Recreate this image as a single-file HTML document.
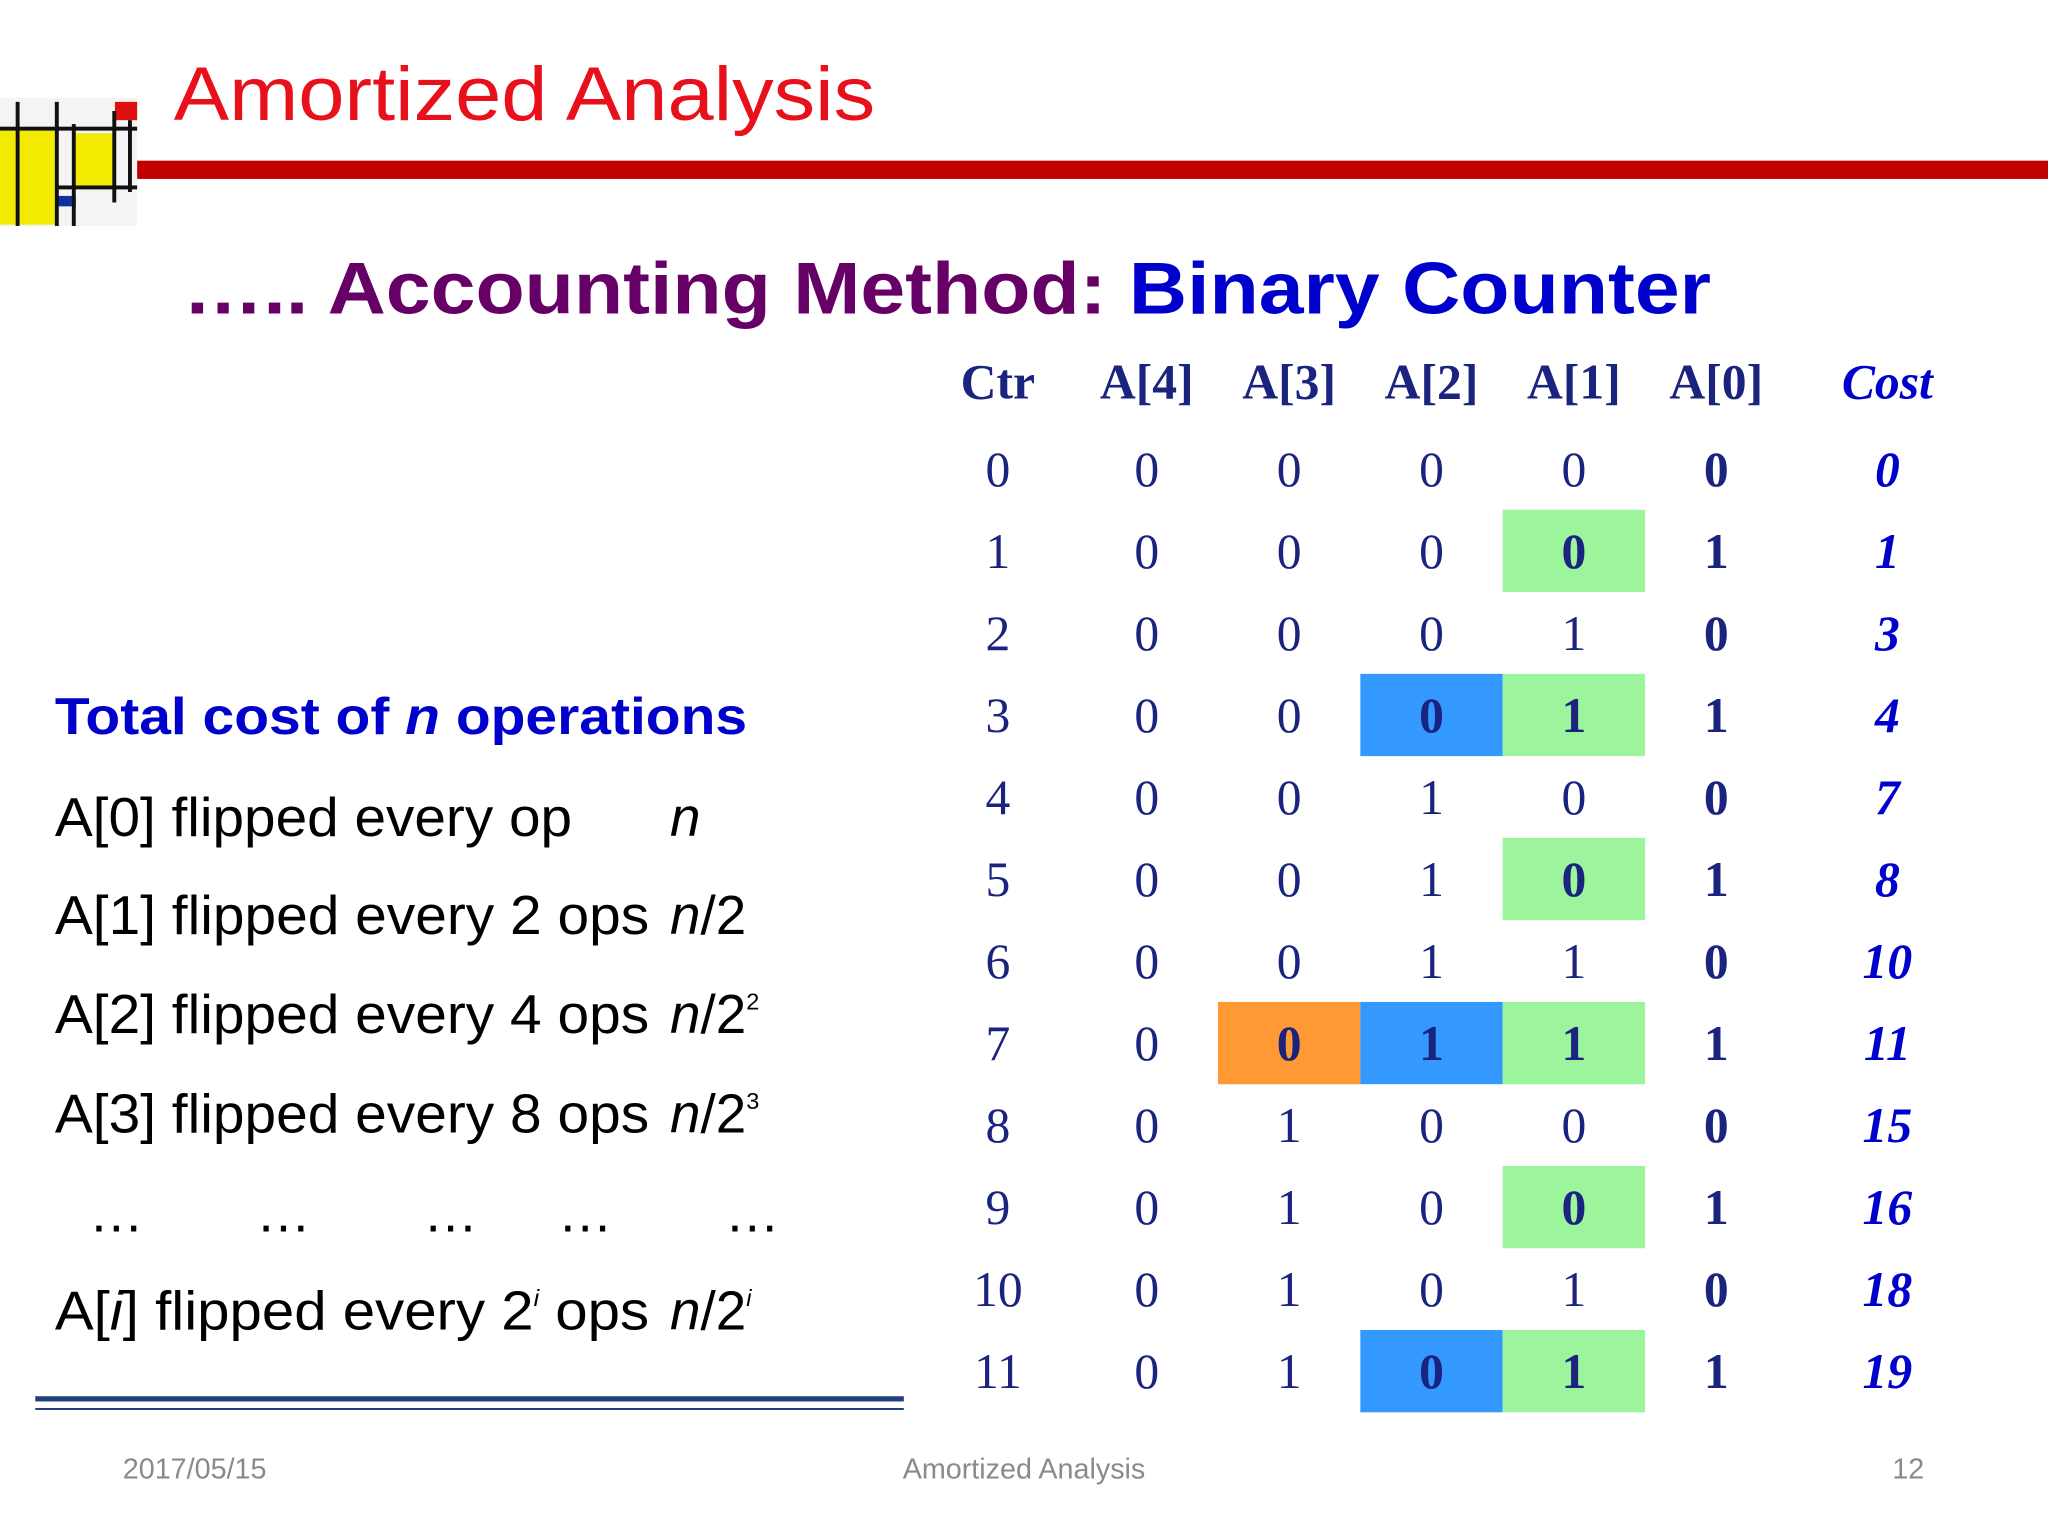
<!DOCTYPE html>
<html><head><meta charset="utf-8"><style>
html,body{margin:0;padding:0;background:#fff;}
svg{display:block;}
</style></head><body>
<svg id="slide" width="2048" height="1536" viewBox="0 0 1568 1176" xmlns="http://www.w3.org/2000/svg">
<g>
<rect x="0" y="75" width="105" height="98" fill="#f4f4f4"/>
<rect x="0" y="100" width="12" height="72" fill="#f2ea00"/>
<rect x="15" y="100" width="27" height="72" fill="#f2ea00"/>
<rect x="58" y="102" width="28" height="40" fill="#f2ea00"/>
<rect x="88" y="78" width="17" height="14" fill="#e01010"/>
<rect x="44" y="150" width="14" height="8" fill="#1030a0"/>
<rect x="12" y="78" width="3" height="95" fill="#111"/>
<rect x="42" y="78" width="3" height="95" fill="#111"/>
<rect x="55" y="95" width="3" height="78" fill="#111"/>
<rect x="86" y="85" width="3" height="70" fill="#111"/>
<rect x="0" y="97" width="105" height="3" fill="#111"/>
<rect x="44" y="142" width="61" height="3" fill="#111"/>
<rect x="98" y="92" width="3" height="55" fill="#111"/>
</g>
<text x="133" y="92" font-family="Liberation Sans, sans-serif" font-size="58" fill="#e8101a" textLength="537" lengthAdjust="spacingAndGlyphs">Amortized Analysis</text>
<rect x="105" y="123" width="1463" height="14" fill="#c00000"/>
<text x="140" y="240" font-family="Liberation Sans, sans-serif" font-weight="bold" font-size="56" textLength="1170" lengthAdjust="spacingAndGlyphs"><tspan fill="#660066">….. Accounting Method: </tspan><tspan fill="#0000cc">Binary Counter</tspan></text>

<g font-family="Liberation Sans, sans-serif" font-size="42" fill="#000">
<text x="42" y="562" font-weight="bold" font-size="40" fill="#0000cc" textLength="530" lengthAdjust="spacingAndGlyphs">Total cost of <tspan font-style="italic">n</tspan> operations</text>
<text x="42" y="640" textLength="396" lengthAdjust="spacingAndGlyphs">A[0] flipped every op</text><text x="513" y="640" font-style="italic">n</text>
<text x="42" y="715" textLength="455" lengthAdjust="spacingAndGlyphs">A[1] flipped every 2 ops</text><text x="513" y="715"><tspan font-style="italic">n</tspan>/2</text>
<text x="42" y="791" textLength="455" lengthAdjust="spacingAndGlyphs">A[2] flipped every 4 ops</text><text x="513" y="791"><tspan font-style="italic">n</tspan>/2<tspan font-size="18" dy="-18">2</tspan></text>
<text x="42" y="867" textLength="455" lengthAdjust="spacingAndGlyphs">A[3] flipped every 8 ops</text><text x="513" y="867"><tspan font-style="italic">n</tspan>/2<tspan font-size="18" dy="-18">3</tspan></text>
<text y="943"><tspan x="68">…</tspan><tspan x="196">…</tspan><tspan x="324">…</tspan><tspan x="427">…</tspan><tspan x="555">…</tspan></text>
<text x="42" y="1018" textLength="455" lengthAdjust="spacingAndGlyphs">A[<tspan font-style="italic">i</tspan>] flipped every 2<tspan font-size="18" dy="-18" font-style="italic">i</tspan><tspan dy="18"> ops</tspan></text><text x="513" y="1018"><tspan font-style="italic">n</tspan>/2<tspan font-size="18" dy="-18" font-style="italic">i</tspan></text>
</g>
<rect x="27" y="1069" width="665" height="4" fill="#1f3f7f"/>
<rect x="27" y="1078" width="665" height="1.5" fill="#1f3f7f"/>

<g id="table"></g>

<g font-family="Liberation Sans, sans-serif" font-size="22" fill="#8a8a8a">
<text x="94" y="1132">2017/05/15</text>
<text x="784" y="1132" text-anchor="middle">Amortized Analysis</text>
<text x="1461" y="1132" text-anchor="middle">12</text>
</g>
</svg>
<script>
const headers = ["Ctr","A[4]","A[3]","A[2]","A[1]","A[0]","Cost"];
const ctrValues = [0,1,2,3,4,5,6,7,8,9,10,11];
const costValues = [0,1,3,4,7,8,10,11,15,16,18,19];
// highlights: [row, column index (1=A[4]..5=A[0]), color]
const highlights = [[1,4,"#9cf59c"],[3,3,"#3399ff"],[3,4,"#9cf59c"],[5,4,"#9cf59c"],[7,2,"#ff9933"],[7,3,"#3399ff"],[7,4,"#9cf59c"],[9,4,"#9cf59c"],[11,3,"#3399ff"],[11,4,"#9cf59c"]];

const NS="http://www.w3.org/2000/svg";
const g=document.getElementById('table');
const colX=c=>[764,878,987,1096,1205,1314,1445][c];
const rowY=r=>359+r*62.8;
const cellW=109, cellH=63;
function txt(x,y,s,opts){
  const t=document.createElementNS(NS,'text');
  t.setAttribute('x',x);t.setAttribute('y',y);
  t.setAttribute('text-anchor','middle');
  t.setAttribute('font-family','Liberation Serif, serif');
  t.setAttribute('font-size',opts.size||38);
  t.setAttribute('fill',opts.fill||'#1a237e');
  if(opts.bold)t.setAttribute('font-weight','bold');
  if(opts.italic)t.setAttribute('font-style','italic');
  t.textContent=s;g.appendChild(t);return t;
}
const hl=new Set();
highlights.forEach(h=>{
  const r=document.createElementNS(NS,'rect');
  
  
  r.setAttribute('x',colX(h[1])-cellW/2);r.setAttribute('y',rowY(h[0])-cellH/2);
  r.setAttribute('width',cellW);r.setAttribute('height',cellH);r.setAttribute('fill',h[2]);
  g.appendChild(r);hl.add(h[0]+'-'+h[1]);
});
headers.forEach((h,c)=>{
  const t=txt(colX(c),305,h,{bold:true,italic:c===6,fill:c===6?'#0000cc':'#1a237e'});
  
  
});
ctrValues.forEach((v,r)=>{
  const y=rowY(r)+13;
  const t=txt(colX(0),y,String(v),{});
  
  
  for(let c=1;c<=5;c++){
    const bit=(v>>(5-c))&1;
    const b=txt(colX(c),y,String(bit),{bold:c===5||hl.has(r+'-'+c)});
    
    
  }
  const k=txt(colX(6),y,String(costValues[r]),{bold:true,italic:true,fill:'#0000cc'});
  
  
});
</script>
</body></html>
